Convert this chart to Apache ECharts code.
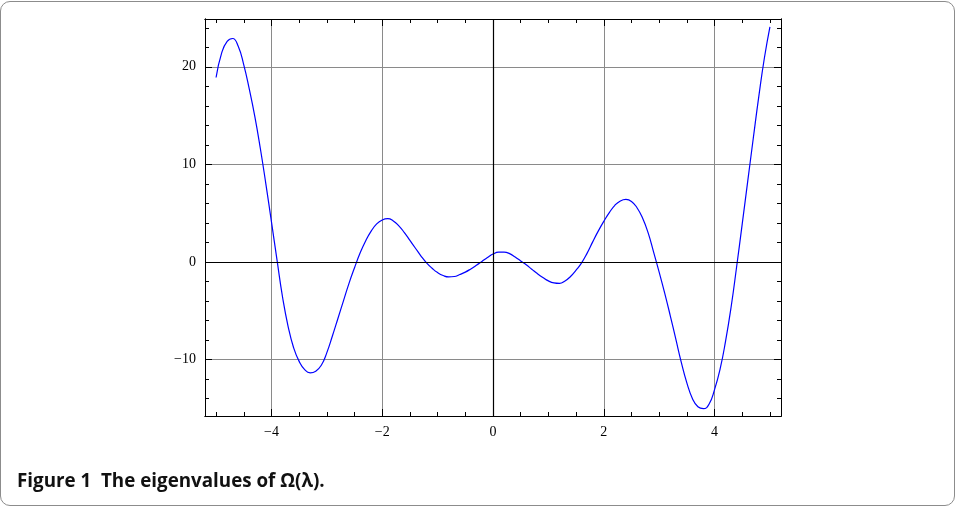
<!DOCTYPE html>
<html>
<head>
<meta charset="utf-8">
<script src="https://cdn.jsdelivr.net/npm/echarts@6/dist/echarts.min.js"></script>
<style>
  html, body { margin: 0; padding: 0; background: #fff; }
  #frame {
    position: absolute; left: 0; top: 1px; width: 953px; height: 503px;
    border: 1px solid #8c8c8c; border-radius: 10px;
  }
  #chart { position: absolute; left: 0; top: 0; width: 956px; height: 507px; }
</style>
</head>
<body>
<div id="frame"></div>
<div id="chart"></div>
<script>
// values, lambda from -5 to 5
const lambdaValues = [
  -5.0, -4.9, -4.8, -4.7, -4.6, -4.5, -4.4, -4.3, -4.2, -4.1,
  -4.0, -3.9, -3.8, -3.7, -3.6, -3.5, -3.4, -3.3, -3.2, -3.1,
  -3.0, -2.9, -2.8, -2.7, -2.6, -2.5, -2.4, -2.3, -2.2, -2.1,
  -2.0, -1.9, -1.8, -1.7, -1.6, -1.5, -1.4, -1.3, -1.2, -1.1,
  -1.0, -0.9, -0.8, -0.7, -0.6, -0.5, -0.4, -0.3, -0.2, -0.1,
  0.0, 0.1, 0.2, 0.3, 0.4, 0.5, 0.6, 0.7, 0.8, 0.9,
  1.0, 1.1, 1.2, 1.3, 1.4, 1.5, 1.6, 1.7, 1.8, 1.9,
  2.0, 2.1, 2.2, 2.3, 2.4, 2.5, 2.6, 2.7, 2.8, 2.9,
  3.0, 3.1, 3.2, 3.3, 3.4, 3.5, 3.6, 3.7, 3.8, 3.9,
  4.0, 4.1, 4.2, 4.3, 4.4, 4.5, 4.6, 4.7, 4.8, 4.9, 5.0
];
const omegaValues = [
  18.9, 21.4, 22.6, 22.9, 22.1, 20.2, 17.7, 14.9, 11.6, 7.95,
  4.1, 0.2, -3.6, -6.6, -8.8, -10.2, -11.05, -11.37, -11.2, -10.6,
  -9.3, -7.6, -5.8, -4.0, -2.2, -0.6, 0.9, 2.15, 3.15, 3.9,
  4.3, 4.43, 4.2, 3.7, 3.0, 2.2, 1.4, 0.6, -0.1, -0.65,
  -1.1, -1.4, -1.54, -1.5, -1.3, -1.05, -0.72, -0.35, 0.05, 0.45,
  0.8, 1.0, 1.0, 0.85, 0.5, 0.1, -0.3, -0.75, -1.2, -1.6,
  -1.95, -2.15, -2.2, -1.95, -1.5, -0.85, -0.1, 0.9, 2.05, 3.15,
  4.15, 5.05, 5.8, 6.25, 6.4, 6.2, 5.55, 4.5, 3.0, 1.0,
  -1.05, -3.2, -5.5, -7.9, -10.3, -12.4, -14.0, -14.85, -15.05, -14.6,
  -13.1, -11.0, -8.1, -4.6, -0.45, 3.9, 8.3, 12.7, 17.0, 20.9, 24.1
];
const xMajorTicks = [-4, -2, 0, 2, 4];
const xMinorTicks = [-5, -4.5, -4, -3.5, -3, -2.5, -2, -1.5, -1, -0.5, 0, 0.5, 1, 1.5, 2, 2.5, 3, 3.5, 4, 4.5, 5];
const yMajorTicks = [-10, 0, 10, 20];
const yMinorTicks = [-14, -12, -10, -8, -6, -4, -2, 0, 2, 4, 6, 8, 10, 12, 14, 16, 18, 20, 22, 24];
const caption = 'Figure 1  The eigenvalues of \u03A9(\u03BB).';

const X_MIN = -5.2, X_MAX = 5.2;
const Y_MIN = -15.8, Y_MAX = 24.9;

function fmt(v) {
  return v < 0 ? '\u2212' + Math.abs(v) : String(v);
}

// one axis per side and tick size; the frame is drawn by the axis lines
function makeAxis(pos, min, max, ticks, len, labels, grid) {
  return {
    type: 'value',
    position: pos,
    min: min,
    max: max,
    axisLine: { show: true, onZero: false, lineStyle: { color: '#000', width: 1 } },
    axisTick: { show: true, inside: true, length: len, customValues: ticks, lineStyle: { color: '#000', width: 1 } },
    axisLabel: {
      show: labels,
      customValues: ticks,
      formatter: fmt,
      fontFamily: 'Liberation Serif',
      fontSize: 14,
      color: '#000',
      margin: 9
    },
    splitLine: { show: grid, lineStyle: { color: '#8a8a8a', width: 1 } }
  };
}

const chart = echarts.init(document.getElementById('chart'), null, { renderer: 'canvas' });

chart.setOption({
  animation: false,
  title: {
    text: caption,
    left: 17,
    top: 472,
    padding: 0,
    textStyle: { fontFamily: 'Open Sans', fontWeight: 'bold', fontSize: 18.8, color: '#111' }
  },
  grid: { left: 205, top: 19, width: 576, height: 397, outerBoundsMode: 'none' },
  xAxis: [
    makeAxis('bottom', X_MIN, X_MAX, xMajorTicks, 7, true, true),
    makeAxis('top', X_MIN, X_MAX, xMajorTicks, 7, false, false),
    makeAxis('bottom', X_MIN, X_MAX, xMinorTicks, 4, false, false),
    makeAxis('top', X_MIN, X_MAX, xMinorTicks, 4, false, false)
  ],
  yAxis: [
    makeAxis('left', Y_MIN, Y_MAX, yMajorTicks, 7, true, true),
    makeAxis('right', Y_MIN, Y_MAX, yMajorTicks, 7, false, false),
    makeAxis('left', Y_MIN, Y_MAX, yMinorTicks, 4, false, false),
    makeAxis('right', Y_MIN, Y_MAX, yMinorTicks, 4, false, false)
  ],
  series: [{
    type: 'line',
    xAxisIndex: 0,
    yAxisIndex: 0,
    data: lambdaValues.map((x, i) => [x, omegaValues[i]]),
    showSymbol: false,
    smooth: 0.5,
    lineStyle: { color: '#0000ff', width: 1.2 },
    markLine: {
      silent: true,
      symbol: ['none', 'none'],
      label: { show: false },
      lineStyle: { color: '#000', width: 1.2, type: 'solid' },
      data: [{ xAxis: 0 }, { yAxis: 0 }]
    }
  }]
});
</script>
</body>
</html>
